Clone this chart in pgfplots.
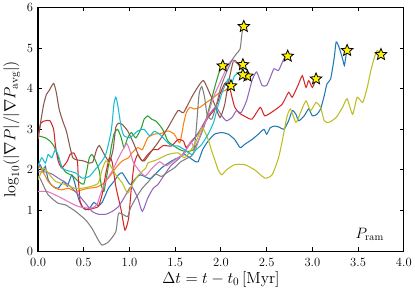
\documentclass[border=0pt]{standalone}
\usepackage{fix-cm}
\usepackage{pgfplots}
\pgfplotsset{compat=1.18}
\definecolor{tblue}{HTML}{1F77B4}
\definecolor{torange}{HTML}{FF7F0E}
\definecolor{tgreen}{HTML}{2CA02C}
\definecolor{tred}{HTML}{D62728}
\definecolor{tpurple}{HTML}{9467BD}
\definecolor{tbrown}{HTML}{8C564B}
\definecolor{tpink}{HTML}{E377C2}
\definecolor{tgray}{HTML}{7F7F7F}
\definecolor{tolive}{HTML}{BCBD22}
\definecolor{tcyan}{HTML}{17BECF}
\pgfdeclareplotmark{ystar}{%
 \pgfpathmoveto{\pgfpointpolar{90}{\pgfplotmarksize}}%
 \pgfpathlineto{\pgfpointpolar{126}{0.45\pgfplotmarksize}}%
 \pgfpathlineto{\pgfpointpolar{162}{\pgfplotmarksize}}%
 \pgfpathlineto{\pgfpointpolar{198}{0.45\pgfplotmarksize}}%
 \pgfpathlineto{\pgfpointpolar{234}{\pgfplotmarksize}}%
 \pgfpathlineto{\pgfpointpolar{270}{0.45\pgfplotmarksize}}%
 \pgfpathlineto{\pgfpointpolar{306}{\pgfplotmarksize}}%
 \pgfpathlineto{\pgfpointpolar{342}{0.45\pgfplotmarksize}}%
 \pgfpathlineto{\pgfpointpolar{18}{\pgfplotmarksize}}%
 \pgfpathlineto{\pgfpointpolar{54}{0.45\pgfplotmarksize}}%
 \pgfpathclose
 \pgfusepathqfillstroke}
\begin{document}
\begin{tikzpicture}
\begin{axis}[
 scale only axis, width=363bp, height=242bp,
 xmin=0, xmax=4, ymin=0, ymax=6,
 xtick={0,0.5,1,1.5,2,2.5,3,3.5,4},
 xticklabel style={yshift=-3.5pt, /pgf/number format/.cd,fixed,fixed zerofill,precision=1},
 ytick={0,1,2,3,4,5,6},
 tick align=inside, xtick pos=both, ytick pos=both,
 xticklabel pos=lower, yticklabel pos=left,
 yticklabel style={xshift=-1.5pt},
 axis line style={line width=1.3pt},
 major tick length=4pt,
 every tick/.style={line width=1pt, black},
 every tick label/.append style={font=\fontsize{12.5}{15}\selectfont},
 label style={font=\fontsize{16}{19}\selectfont},
 xlabel={$\Delta t = t - t_0\,[\mathrm{Myr}]$},
 ylabel={$\log_{10}(|\nabla P|/|\nabla P_{\mathrm{avg}}|)$},
 xlabel style={yshift=2pt},
 every axis plot/.append style={line width=1.05pt, smooth, tension=0.35},
]
% blue
\addplot[tblue] coordinates {(0,2.0)(0.02,2.13)(0.06,1.97)(0.08,2.09)(0.11,1.76)(0.16,1.6)(0.22,1.55)(0.28,1.72)(0.32,1.6)(0.37,1.88)(0.41,1.6)(0.44,1.31)(0.48,1.1)(0.52,1.02)(0.57,1.08)(0.61,1.2)(0.66,1.12)(0.7,1.2)(0.74,1.4)(0.77,1.55)(0.83,1.72)(0.88,1.88)(0.92,1.93)(0.98,1.72)(1.01,1.64)(1.07,1.8)(1.12,1.88)(1.2,1.8)(1.24,1.8)(1.35,2.05)(1.46,2.22)(1.53,2.3)(1.6,2.38)(1.66,2.3)(1.71,2.22)(1.75,2.2)(1.8,2.5)(1.86,2.71)(1.93,2.88)(2.01,2.92)(2.08,2.88)(2.15,2.75)(2.21,2.55)(2.26,2.63)(2.34,2.75)(2.41,2.88)(2.47,3.0)(2.5,2.88)(2.54,3.04)(2.59,3.08)(2.64,3.05)(2.69,3.0)(2.74,3.21)(2.78,3.46)(2.82,3.37)(2.85,3.21)(2.91,3.33)(2.96,3.5)(3.0,3.33)(3.05,3.37)(3.09,3.5)(3.13,3.83)(3.16,4.12)(3.2,4.24)(3.24,4.78)(3.26,5.15)(3.29,5.03)(3.33,4.74)(3.35,4.57)(3.37,4.85)(3.38,4.94)};
% orange
\addplot[torange] coordinates {(0,2.13)(0.06,1.93)(0.11,1.72)(0.19,1.55)(0.26,1.51)(0.33,1.55)(0.41,1.47)(0.48,1.51)(0.55,1.55)(0.63,1.57)(0.7,1.64)(0.77,1.8)(0.85,2.05)(0.92,2.22)(0.99,2.3)(1.02,2.4)(1.09,2.55)(1.14,2.5)(1.2,2.79)(1.27,2.88)(1.35,2.9)(1.42,2.96)(1.49,2.88)(1.55,2.67)(1.59,3.12)(1.62,3.4)(1.66,3.54)(1.71,3.5)(1.77,3.54)(1.84,3.66)(1.9,3.75)(1.99,3.91)(2.04,3.95)(2.11,4.07)};
% green
\addplot[tgreen] coordinates {(0,2.84)(0.08,2.79)(0.13,2.71)(0.17,2.6)(0.21,2.38)(0.25,2.13)(0.3,1.95)(0.38,1.85)(0.45,1.7)(0.5,1.65)(0.53,1.95)(0.56,2.3)(0.59,2.38)(0.63,2.22)(0.67,1.97)(0.69,1.64)(0.72,1.47)(0.76,1.97)(0.8,2.55)(0.83,2.88)(0.87,3.0)(0.91,2.79)(0.94,2.55)(0.98,2.79)(1.02,2.92)(1.07,2.79)(1.13,3.04)(1.16,3.25)(1.2,3.33)(1.24,3.25)(1.29,3.2)(1.35,3.04)(1.38,2.92)(1.42,2.71)(1.48,2.6)(1.55,2.5)(1.62,2.45)(1.7,2.5)(1.76,2.75)(1.82,3.1)(1.88,3.6)(1.94,4.1)(1.98,4.4)(2.02,4.56)};
% red
\addplot[tred] coordinates {(0,2.75)(0.03,3.15)(0.08,3.21)(0.13,3.21)(0.17,3.0)(0.19,2.6)(0.22,2.22)(0.26,2.05)(0.32,2.22)(0.35,2.38)(0.39,2.42)(0.43,2.22)(0.44,1.8)(0.46,1.22)(0.5,1.06)(0.55,1.02)(0.61,1.06)(0.66,1.1)(0.7,1.39)(0.74,1.9)(0.78,2.3)(0.81,2.2)(0.85,1.6)(0.91,1.0)(0.95,0.52)(0.99,0.81)(1.02,1.55)(1.05,2.13)(1.09,2.38)(1.14,2.22)(1.2,2.38)(1.26,2.5)(1.31,2.5)(1.37,2.6)(1.46,2.59)(1.53,2.75)(1.59,2.71)(1.62,2.55)(1.68,2.71)(1.75,2.9)(1.86,3.29)(1.92,3.46)(1.97,3.7)(1.99,3.87)(2.04,4.12)(2.08,4.16)(2.12,3.8)(2.15,3.55)(2.2,3.4)(2.26,3.32)(2.34,3.25)(2.43,3.54)(2.48,3.33)(2.58,3.46)(2.67,3.62)(2.74,3.91)(2.78,3.79)(2.85,4.12)(2.89,4.32)(2.93,4.03)(2.96,4.2)(3.0,4.03)(3.04,4.24)};
% purple
\addplot[tpurple] coordinates {(0,1.95)(0.08,1.95)(0.15,1.9)(0.22,1.8)(0.33,1.64)(0.44,1.39)(0.52,1.18)(0.59,0.98)(0.66,0.91)(0.74,0.91)(0.81,0.98)(0.88,1.1)(0.95,1.35)(1.0,1.55)(1.03,1.58)(1.09,1.31)(1.14,0.98)(1.2,1.31)(1.26,1.55)(1.31,1.64)(1.37,1.84)(1.45,2.1)(1.55,2.3)(1.65,2.6)(1.75,2.9)(1.85,3.3)(1.92,3.5)(1.95,3.54)(2.01,3.33)(2.06,3.21)(2.12,3.29)(2.17,3.46)(2.22,3.41)(2.28,3.7)(2.34,4.2)(2.39,4.41)(2.45,4.08)(2.5,4.08)(2.54,4.28)(2.58,4.49)(2.63,4.45)(2.69,4.74)(2.73,4.8)};
% brown
\addplot[tbrown] coordinates {(0,2.8)(0.03,3.2)(0.06,3.6)(0.09,3.85)(0.12,3.95)(0.17,4.13)(0.2,3.9)(0.23,3.5)(0.27,3.2)(0.31,2.95)(0.35,2.55)(0.38,2.3)(0.42,2.25)(0.5,2.22)(0.56,2.17)(0.6,2.2)(0.64,2.5)(0.67,2.6)(0.72,2.4)(0.78,2.2)(0.82,2.5)(0.85,3.05)(0.88,3.15)(0.92,3.12)(0.98,2.96)(1.05,2.63)(1.11,2.3)(1.16,2.22)(1.24,2.46)(1.31,2.67)(1.42,3.04)(1.53,3.46)(1.59,3.41)(1.68,3.79)(1.75,4.05)(1.81,4.2)(1.88,3.87)(1.93,3.62)(1.99,3.29)(2.04,3.6)(2.08,4.12)(2.14,4.7)(2.21,4.53)(2.29,4.31)};
% pink
\addplot[tpink] coordinates {(0,1.47)(0.1,1.47)(0.22,1.35)(0.33,1.22)(0.44,1.1)(0.55,1.06)(0.61,1.08)(0.65,1.18)(0.68,1.39)(0.74,1.72)(0.81,1.97)(0.88,2.3)(0.94,2.55)(0.97,2.65)(1.0,2.5)(1.04,2.2)(1.1,2.0)(1.17,1.85)(1.25,2.05)(1.33,2.2)(1.4,2.1)(1.5,2.25)(1.6,2.4)(1.67,2.7)(1.72,2.5)(1.78,2.9)(1.85,3.3)(1.92,3.8)(2.0,4.2)(2.07,4.55)(2.12,4.7)(2.18,4.62)(2.24,4.59)};
% gray
\addplot[tgray] coordinates {(0,1.85)(0.02,1.8)(0.11,1.39)(0.22,1.18)(0.3,1.14)(0.41,0.98)(0.52,0.77)(0.59,0.56)(0.66,0.27)(0.7,0.15)(0.77,0.23)(0.85,0.48)(0.88,0.93)(0.94,0.89)(0.98,0.85)(1.01,1.06)(1.07,1.31)(1.14,1.55)(1.21,1.72)(1.28,1.9)(1.35,1.84)(1.42,1.95)(1.49,2.05)(1.56,2.2)(1.64,2.3)(1.7,2.4)(1.73,3.0)(1.76,3.85)(1.79,4.05)(1.82,3.8)(1.85,3.35)(1.9,3.25)(1.95,3.6)(2.0,4.05)(2.06,4.4)(2.12,4.7)(2.17,4.86)(2.21,4.98)(2.23,5.36)(2.25,5.53)};
% olive
\addplot[tolive] coordinates {(0,1.76)(0.06,2.05)(0.12,1.9)(0.19,1.72)(0.3,1.64)(0.4,1.55)(0.48,1.55)(0.59,1.6)(0.66,1.68)(0.7,2.0)(0.74,2.22)(0.78,2.15)(0.85,1.88)(0.92,1.68)(0.98,1.43)(1.03,1.64)(1.1,1.88)(1.18,2.05)(1.2,2.17)(1.3,2.25)(1.42,2.38)(1.53,2.42)(1.6,2.3)(1.66,2.45)(1.73,2.71)(1.79,3.04)(1.82,2.96)(1.86,2.75)(1.9,2.46)(1.94,2.2)(1.97,2.0)(2.01,1.88)(2.06,2.0)(2.15,2.13)(2.26,2.13)(2.37,2.0)(2.48,1.8)(2.56,1.88)(2.63,2.3)(2.67,2.71)(2.72,3.29)(2.76,3.5)(2.82,3.17)(2.87,3.41)(2.93,3.7)(2.98,3.46)(3.04,3.66)(3.09,3.54)(3.13,3.21)(3.18,3.17)(3.26,3.29)(3.33,3.54)(3.38,3.75)(3.44,3.37)(3.49,3.79)(3.55,3.66)(3.6,4.03)(3.64,4.45)(3.68,4.78)(3.71,4.94)(3.75,4.84)};
% cyan
\addplot[tcyan] coordinates {(0,2.1)(0.04,2.3)(0.08,2.17)(0.11,2.38)(0.15,2.3)(0.19,2.5)(0.23,2.3)(0.26,2.05)(0.34,1.97)(0.41,1.93)(0.48,1.8)(0.56,1.84)(0.61,1.97)(0.67,2.13)(0.74,2.38)(0.8,2.96)(0.83,3.62)(0.85,3.79)(0.87,3.62)(0.91,3.04)(0.94,2.84)(1.0,2.79)(1.05,2.88)(1.09,2.96)(1.16,3.0)(1.22,2.84)(1.27,2.95)(1.33,2.88)(1.4,2.71)(1.46,2.6)(1.53,2.59)(1.6,2.5)(1.68,2.38)(1.73,2.5)(1.79,2.63)(1.86,2.88)(1.92,3.17)(1.97,3.6)(2.02,3.95)(2.08,4.24)(2.12,4.16)(2.15,4.32)(2.21,4.41)(2.24,4.34)};
% end stars
\addplot[only marks, mark=ystar, mark size=6bp, mark options={fill=yellow, draw=black, line width=0.8pt}] coordinates {(3.38,4.94)(2.11,4.07)(2.02,4.56)(3.04,4.24)(2.73,4.8)(2.29,4.31)(2.24,4.59)(2.25,5.53)(3.75,4.84)(2.24,4.34)};
\node[anchor=base east, font=\fontsize{15}{18}\selectfont] at (rel axis cs:0.955,0.052) {$P_{\mathrm{ram}}$};
\end{axis}
\end{tikzpicture}
\end{document}
